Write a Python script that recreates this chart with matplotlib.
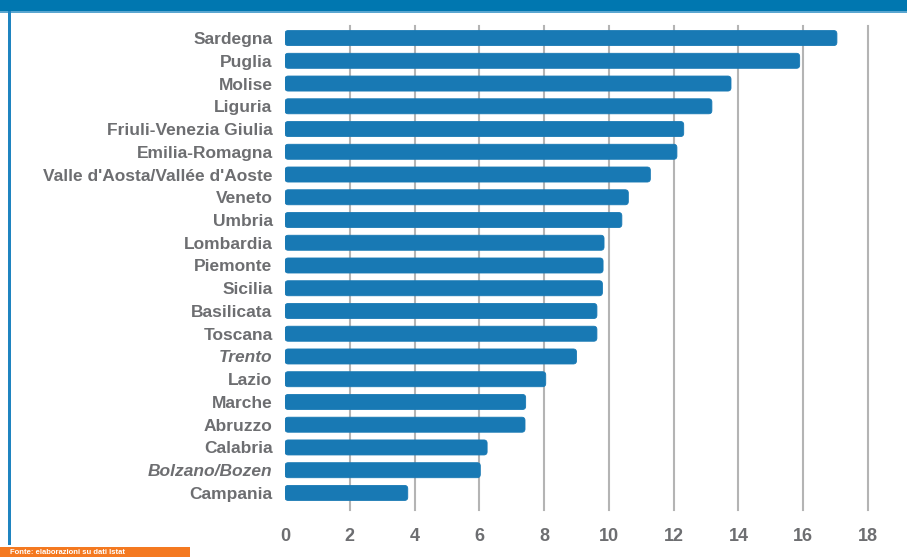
import matplotlib.pyplot as plt
from matplotlib.patches import FancyBboxPatch, Rectangle

regioni = ["Sardegna", "Puglia", "Molise", "Liguria", "Friuli-Venezia Giulia",
           "Emilia-Romagna", "Valle d'Aosta/Vallée d'Aoste", "Veneto", "Umbria",
           "Lombardia", "Piemonte", "Sicilia", "Basilicata", "Toscana", "Trento",
           "Lazio", "Marche", "Abruzzo", "Calabria", "Bolzano/Bozen", "Campania"]
valori = [17.04, 15.89, 13.77, 13.18, 12.31, 12.1, 11.28, 10.6, 10.4,
          9.85, 9.82, 9.8, 9.63, 9.63, 9.0, 8.05, 7.43, 7.41, 6.24, 6.03, 3.79]
corsivo = ["Trento", "Bolzano/Bozen"]
xticks = [0, 2, 4, 6, 8, 10, 12, 14, 16, 18]

blu = '#1879b4'
grigio = '#6d6e71'
plt.rcParams['font.family'] = ['Liberation Sans', 'DejaVu Sans']

fig = plt.figure(figsize=(9.07, 5.57), dpi=100)
ax = fig.add_axes([285 / 907, 1 - 510 / 557, (868 - 285) / 907, (510 - 26) / 557])

pos = list(range(len(regioni)))
bars = ax.barh(pos, valori, height=0.66, color=blu)
# barre con angoli arrotondati
for b in bars:
    x0, y0 = b.get_x(), b.get_y()
    w, h = b.get_width(), b.get_height()
    b.set_visible(False)
    ax.add_patch(FancyBboxPatch((x0, y0), w, h,
                                boxstyle="round,pad=0,rounding_size=0.1",
                                mutation_aspect=1.42, fc=blu, ec=blu, lw=0.6,
                                zorder=3))

ax.set_xlim(0, 18)
ax.set_ylim(20.75, -0.53)
ax.set_xticks(xticks)
ax.set_xticklabels([str(t) for t in xticks])
ax.set_yticks(pos)
ax.set_yticklabels(regioni)
for lab in ax.get_yticklabels():
    lab.set_fontweight('bold')
    if lab.get_text() in corsivo:
        lab.set_fontstyle('italic')
for lab in ax.get_xticklabels():
    lab.set_fontweight('bold')
ax.tick_params(axis='y', length=0, pad=9, labelsize=12.5, labelcolor=grigio)
ax.tick_params(axis='x', length=0, pad=13, labelsize=13, labelcolor=grigio)

for t in xticks[1:]:
    ax.axvline(t, color='#b4b4b4', lw=1.5, zorder=1, clip_on=False)
for s in ax.spines.values():
    s.set_visible(False)

# cornice: fascia blu in alto, linea a sinistra, riquadro arancione in basso
fig.patches.append(Rectangle((0, 1 - 11 / 557), 1, 11 / 557, transform=fig.transFigure,
                             fc='#0077b0', ec='none'))
fig.patches.append(Rectangle((0, 1 - 12.5 / 557), 1, 1.5 / 557, transform=fig.transFigure,
                             fc='#5aa6d0', ec='none'))
fig.patches.append(Rectangle((8 / 907, 12 / 557), 2.5 / 907, 1 - 23 / 557,
                             transform=fig.transFigure, fc='#1f84c0', ec='none'))
fig.patches.append(Rectangle((0, 0), 190 / 907, 10 / 557, transform=fig.transFigure,
                             fc='#f47920', ec='none'))
fig.text(10 / 907, 1.5 / 557, "Fonte: elaborazioni su dati Istat", color='white',
         fontsize=5.5, fontweight='bold', va='bottom', ha='left')

fig.savefig('out.png', dpi=100)
